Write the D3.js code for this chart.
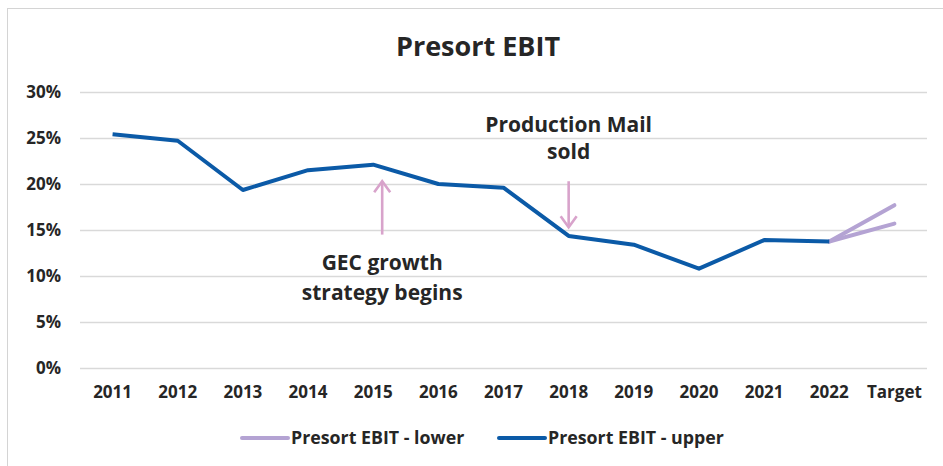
<!DOCTYPE html>
<html>
<head>
<meta charset="utf-8">
<script src="https://cdn.jsdelivr.net/npm/d3@7"></script>
<style>
  body { margin: 0; background: #fff; }
  svg text { font-family: "Open Sans", sans-serif; font-weight: bold; fill: #262626; }
</style>
</head>
<body>
<svg id="chart" width="943" height="466"></svg>
<script>
// Data
var categories = ['2011', '2012', '2013', '2014', '2015', '2016', '2017', '2018', '2019', '2020', '2021', '2022', 'Target'];
var upperValues = [25.4, 24.7, 19.35, 21.5, 22.1, 20.0, 19.6, 14.35, 13.4, 10.8, 13.9, 13.75, 17.7];
var lowerValues = [null, null, null, null, null, null, null, null, null, null, null, 13.75, 15.7];
var yTicks = [0, 5, 10, 15, 20, 25, 30];
var annotationText = [['GEC growth', 'strategy begins'], ['Production Mail', 'sold']];
var annotationCats = ['2015', '2018'];
var arrowFrom = [14.5, 20.3];
var arrowTo = [20.3, 15.3];
var labelAt = [10.65, 25.65];

var BLUE = '#0b5aa7', PURPLE = '#b4a3d3', PINK = '#d8a3cb';

var svg = d3.select('#chart');

// frame
svg.append('rect')
  .attr('x', 7.5).attr('y', 8.5)
  .attr('width', 1000).attr('height', 1000)
  .attr('fill', 'none').attr('stroke', '#d4d4d4');

var x = d3.scaleBand().domain(categories).range([80, 927]);
var y = d3.scaleLinear().domain([0, 30]).range([368, 92]);
var cx = function (c) { return x(c) + x.bandwidth() / 2; };

// title
svg.append('text')
  .attr('x', 478).attr('y', 56)
  .attr('text-anchor', 'middle')
  .style('font-size', '27px')
  .text('Presort EBIT');

// gridlines + y labels
var yAxis = svg.append('g').attr('transform', 'translate(80,0)')
  .call(d3.axisLeft(y).tickValues(yTicks).tickSize(-847).tickFormat(function (d) { return d + '%'; }));
yAxis.select('.domain').remove();
yAxis.selectAll('.tick line').attr('stroke', '#d9d9d9').attr('stroke-width', 1.3);
yAxis.selectAll('.tick text').attr('x', -19).attr('dy', '0.35em').style('font-size', '17px');

// x labels
var xAxis = svg.append('g').attr('transform', 'translate(0,368)')
  .call(d3.axisBottom(x).tickSize(0));
xAxis.select('.domain').remove();
xAxis.selectAll('.tick text').attr('y', 18).attr('dy', '0.71em').style('font-size', '17px');

// lines
var line = d3.line()
  .defined(function (d) { return d.v != null; })
  .x(function (d) { return cx(d.c); })
  .y(function (d) { return y(d.v); });

var upper = categories.map(function (c, i) { return { c: c, v: upperValues[i] }; });
var lower = categories.map(function (c, i) { return { c: c, v: lowerValues[i] }; });

svg.append('path').attr('d', line(lower))
  .attr('fill', 'none').attr('stroke', PURPLE).attr('stroke-width', 4).attr('stroke-linecap', 'round');
// upper target segment is drawn in lavender too
svg.append('path').attr('d', line(upper.slice(-2)))
  .attr('fill', 'none').attr('stroke', PURPLE).attr('stroke-width', 4).attr('stroke-linecap', 'round');
svg.append('path').attr('d', line(upper.slice(0, -1)))
  .attr('fill', 'none').attr('stroke', BLUE).attr('stroke-width', 4)
  .attr('stroke-linejoin', 'round').attr('stroke-linecap', 'butt');

// annotations (first one sits a little right of its point)
var nudge = [9, 0], lineGap = [30, 27];
annotationText.forEach(function (lines, k) {
  var ax = cx(annotationCats[k]) + nudge[k], y1 = y(arrowFrom[k]), y2 = y(arrowTo[k]);
  var dir = y2 < y1 ? 1 : -1; // 1 = arrow points up
  svg.append('line')
    .attr('x1', ax).attr('x2', ax)
    .attr('y1', y1).attr('y2', y2 + dir)
    .attr('stroke', PINK).attr('stroke-width', 2.6);
  svg.append('path')
    .attr('d', 'M' + (ax - 8) + ',' + (y2 + dir * 11) + 'L' + ax + ',' + y2 + 'L' + (ax + 8) + ',' + (y2 + dir * 11))
    .attr('fill', 'none').attr('stroke', PINK).attr('stroke-width', 2.6);
  var t = svg.append('text')
    .attr('x', ax).attr('y', y(labelAt[k]))
    .attr('text-anchor', 'middle')
    .style('font-size', '21px');
  lines.forEach(function (l, i) {
    t.append('tspan').attr('x', ax).attr('dy', i ? lineGap[k] : 0).text(l);
  });
});

// legend
var legend = [
  { name: 'Presort EBIT - lower', color: PURPLE, x: 242 },
  { name: 'Presort EBIT - upper', color: BLUE, x: 499 }
];
legend.forEach(function (d) {
  svg.append('line')
    .attr('x1', d.x).attr('x2', d.x + 46)
    .attr('y1', 438).attr('y2', 438)
    .attr('stroke', d.color).attr('stroke-width', 4).attr('stroke-linecap', 'round');
  svg.append('text')
    .attr('x', d.x + 49).attr('y', 444)
    .style('font-size', '17.8px')
    .text(d.name);
});
</script>
</body>
</html>
